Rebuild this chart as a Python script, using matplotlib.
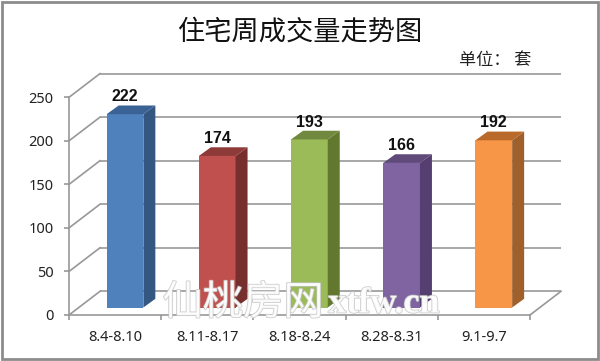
import matplotlib
matplotlib.use("Agg")
import matplotlib.pyplot as plt
from matplotlib.patches import Polygon, Rectangle
from matplotlib.transforms import Affine2D
import matplotlib.patheffects as pe

categories = ["8.4-8.10", "8.11-8.17", "8.18-8.24", "8.28-8.31", "9.1-9.7"]
values = [222, 174, 193, 166, 192]
y_ticks = [0, 50, 100, 150, 200, 250]
front_colors = ["#4F81BD", "#C0504D", "#9BBB59", "#8064A2", "#F79646"]
side_colors = ["#335780", "#772F2D", "#63782F", "#553F70", "#A0602B"]
top_colors = ["#3A6294", "#8E3A38", "#71893F", "#5F4A7A", "#B96A2B"]

W, H = 600, 361
GRID = "#989898"
SANS = ["Noto Sans", "DejaVu Sans"]
CJK = ["Noto Sans CJK SC", "DejaVu Sans"]

fig = plt.figure(figsize=(W / 100, H / 100), dpi=100, facecolor="white")
ax = fig.add_axes([69 / W, (H - 315) / H, (530 - 69) / W, (315 - 97.3) / H])
ax.patch.set_visible(False)
ax.set_xlim(0, len(categories))
ax.set_ylim(0, 250)

# depth offsets in pixels from the front plane
back = ax.transData + Affine2D().translate(31, 23.7)
bar_plane = ax.transData + Affine2D().translate(9.9, 7.5)
depth = (12, 8.7)
bar_w = 0.398

# Outer frame
fig.add_artist(Rectangle((2 / W, 2 / H), 595.5 / W, 357 / H, transform=fig.transFigure,
                         fill=False, edgecolor="#8C8C8C", linewidth=2))

# Back wall gridlines and the left-wall diagonals
for t in y_ticks:
    ax.plot([0, len(categories)], [t, t], transform=back, color=GRID, lw=1.2,
            clip_on=False, zorder=1, solid_capstyle="butt")
    p0 = ax.transData.transform((0, t))
    ax.plot([p0[0], p0[0] + 31], [p0[1], p0[1] + 23.7], transform=None, color=GRID,
            lw=1.2, clip_on=False, zorder=1)
p0 = ax.transData.transform((len(categories), 0))
ax.plot([p0[0], p0[0] + 31], [p0[1], p0[1] + 23.7], transform=None, color=GRID,
        lw=1.2, clip_on=False, zorder=1)

# Bars: front faces through the axes scales, depth faces derived from them
centers = [i + 0.5 for i in range(len(categories))]
for c, v, fc, sc, tc in zip(centers, values, front_colors, side_colors, top_colors):
    ax.bar(c, v, width=bar_w, color=fc, transform=bar_plane, clip_on=False, zorder=3,
           linewidth=0)
    (lx, by), (rx, ty) = bar_plane.transform([(c - bar_w / 2, 0), (c + bar_w / 2, v)])
    dx, dy = depth
    ax.add_patch(Polygon([(rx, by), (rx + dx, by + dy), (rx + dx, ty + dy), (rx, ty)],
                         closed=True, transform=None, facecolor=sc, edgecolor="none",
                         clip_on=False, zorder=3))
    ax.add_patch(Polygon([(lx, ty), (rx, ty), (rx + dx, ty + dy), (lx + dx, ty + dy)],
                         closed=True, transform=None, facecolor=tc, edgecolor="none",
                         clip_on=False, zorder=3))
    ax.annotate(str(v), xy=(c, v), xycoords=bar_plane, xytext=(0, 12.5),
                textcoords="offset points", ha="center", va="center", fontsize=11.5,
                fontweight="bold", family=["Liberation Sans", "DejaVu Sans"],
                color="#111111", zorder=5)

# Axes
for s in ("top", "right"):
    ax.spines[s].set_visible(False)
for s in ("left", "bottom"):
    ax.spines[s].set_color(GRID)
    ax.spines[s].set_linewidth(1.2)
    ax.spines[s].set_zorder(2)
ax.set_yticks(y_ticks)
ax.tick_params(axis="y", length=3.8, width=1.2, color=GRID, pad=7.5, labelsize=10.5,
               labelcolor="#222222")
ax.set_xticks(range(len(categories) + 1))
ax.set_xticklabels([])
ax.tick_params(axis="x", which="major", length=3.8, width=1.2, color=GRID)
ax.set_xticks(centers, minor=True)
ax.set_xticklabels(categories, minor=True, fontsize=10.5, color="#222222", family=SANS)
ax.tick_params(axis="x", which="minor", length=0, pad=10.5)
for lab in ax.get_yticklabels():
    lab.set_family(SANS)

# Titles
fig.text(300 / W, 1 - 32 / H, "住宅周成交量走势图", ha="center", va="center", fontsize=19.6,
         family=CJK, color="#111111")
fig.text(495 / W, 1 - 60 / H, "单位： 套", ha="center", va="center", fontsize=12.3,
         family=CJK, color="#222222")

# Watermark
stroke = [pe.withStroke(linewidth=1.2, foreground="#C4C4C4", alpha=0.85),
          pe.Normal()]
wm1 = fig.text(243 / W, 1 - 303 / H, "仙桃房网", ha="center", va="center", fontsize=29,
               family=CJK, color="#FFFFFF", alpha=0.6, zorder=10)
wm1.set_path_effects(stroke)
wm2 = fig.text(384 / W, 1 - 304 / H, "xtfw.cn", ha="center", va="center", fontsize=26,
               family=["Liberation Serif"], fontweight="bold", color="#FFFFFF", alpha=0.6,
               zorder=10)
wm2.set_path_effects(stroke)

fig.savefig("out.png", dpi=100, facecolor="white")
